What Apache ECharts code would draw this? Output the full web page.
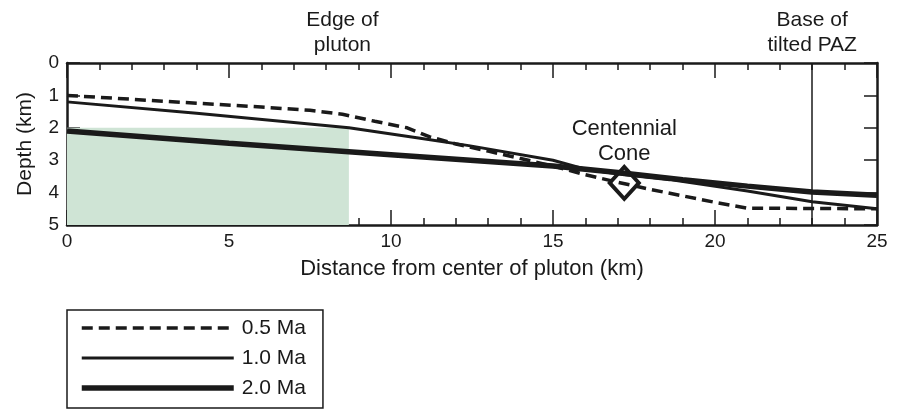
<!DOCTYPE html>
<html>
<head>
<meta charset="utf-8">
<script src="https://cdn.jsdelivr.net/npm/echarts@6/dist/echarts.min.js"></script>
<style>
  html, body { margin: 0; padding: 0; background: #fff; }
  #chart { width: 901px; height: 413px; }
</style>
</head>
<body>
<div id="chart"></div>
<script>
// Axis extents and ticks
const distanceRange = [0, 25];
const distanceInterval = 5;
const depthRange = [0, 5];
const depthInterval = 1;

// Model isotherm profiles: distance from pluton center (km) vs depth (km)
const seriesNames = ['0.5 Ma', '1.0 Ma', '2.0 Ma'];

const dist05  = [0, 2, 4, 6, 7.5, 8.5, 9.5, 10.5, 11.2, 12, 13, 14, 15, 16, 17, 18, 19, 20, 21, 25];
const depth05 = [1.0, 1.12, 1.24, 1.36, 1.46, 1.58, 1.8, 2.0, 2.28, 2.5, 2.72, 2.95, 3.18, 3.45, 3.68, 3.9, 4.1, 4.3, 4.48, 4.5];

const dist10  = [0, 4, 8.7, 10.9, 12.4, 15, 16, 17.2, 18.6, 21, 23, 25];
const depth10 = [1.2, 1.55, 2.0, 2.32, 2.55, 3.0, 3.28, 3.45, 3.6, 3.95, 4.28, 4.5];

const dist20  = [0, 5, 10, 15, 17, 19, 21, 23, 25];
const depth20 = [2.1, 2.48, 2.83, 3.18, 3.38, 3.6, 3.8, 3.98, 4.08];

// Pluton body (shaded) and base of tilted PAZ
const plutonX = [0, 8.7];
const plutonDepth = [2, 5];
const plutonLabelX = 8.5;
const pazBaseX = 23;

// Centennial Cone sample location
const coneX = 17.2;
const coneDepth = 3.7;

const zip = (xs, ys) => xs.map((x, i) => [x, ys[i]]);

const FONT = 'Liberation Sans';
const INK = '#1a1a1a';

const chart = echarts.init(document.getElementById('chart'), null, { renderer: 'canvas' });

const xBase = {
  type: 'value',
  min: distanceRange[0],
  max: distanceRange[1],
  interval: distanceInterval,
  axisLine: { show: true, onZero: false, lineStyle: { color: INK, width: 2.5 } },
  axisTick: { show: true, inside: true, length: 15, lineStyle: { color: INK, width: 1.5 } },
  minorTick: { show: true, splitNumber: 5, length: 7, lineStyle: { color: INK, width: 1.5 } },
  splitLine: { show: false },
  minorSplitLine: { show: false }
};

const yBase = {
  type: 'value',
  min: depthRange[0],
  max: depthRange[1],
  interval: depthInterval,
  inverse: true,
  axisLine: { show: true, onZero: false, lineStyle: { color: INK, width: 2.5 } },
  axisTick: { show: true, inside: true, length: 13, lineStyle: { color: INK, width: 1.5 } },
  splitLine: { show: false }
};

const option = {
  backgroundColor: '#fff',
  animation: false,
  textStyle: { fontFamily: FONT, color: INK },
  grid: { left: 67, right: 24, top: 63, bottom: 188 },
  xAxis: [
    Object.assign({}, xBase, {
      position: 'bottom',
      name: 'Distance from center of pluton (km)',
      nameLocation: 'middle',
      nameGap: 33,
      nameTextStyle: { fontFamily: FONT, fontSize: 22, color: INK },
      axisLabel: { show: true, margin: 7, fontFamily: FONT, fontSize: 19, color: INK }
    }),
    Object.assign({}, xBase, {
      position: 'top',
      axisLabel: { show: false }
    })
  ],
  yAxis: [
    Object.assign({}, yBase, {
      position: 'left',
      name: 'Depth (km)',
      nameLocation: 'middle',
      nameGap: 31,
      nameTextStyle: { fontFamily: FONT, fontSize: 21, color: INK },
      axisLabel: { show: true, margin: 8, fontFamily: FONT, fontSize: 19, color: INK }
    }),
    Object.assign({}, yBase, {
      position: 'right',
      axisLabel: { show: false }
    })
  ],
  legend: {
    data: seriesNames,
    orient: 'vertical',
    left: 67,
    top: 310,
    height: 90,
    padding: [6, 17, 8, 12],
    itemWidth: 152,
    itemHeight: 24,
    itemGap: 6,
    borderColor: INK,
    borderWidth: 1.5,
    borderRadius: 0,
    itemStyle: { opacity: 0 },
    lineStyle: { width: 'inherit' },
    textStyle: { fontFamily: FONT, fontSize: 21, lineHeight: 24, color: INK, padding: [0, 0, 0, 3] },
    selectedMode: false
  },
  series: [
    {
      name: seriesNames[0],
      type: 'line',
      data: zip(dist05, depth05),
      symbol: 'none',
      z: 4,
      lineStyle: { color: INK, width: 3.5, type: [11, 6] },
      itemStyle: { color: INK },
      markArea: {
        silent: true,
        itemStyle: { color: '#cfe4d5' },
        data: [[{ xAxis: plutonX[0], yAxis: plutonDepth[0] }, { xAxis: plutonX[1], yAxis: plutonDepth[1] }]]
      },
      markLine: {
        silent: true,
        symbol: 'none',
        label: { show: false },
        lineStyle: { color: INK, width: 1.5, type: 'solid' },
        data: [{ xAxis: pazBaseX }]
      }
    },
    {
      name: seriesNames[1],
      type: 'line',
      data: zip(dist10, depth10),
      symbol: 'none',
      z: 4,
      lineStyle: { color: INK, width: 3 },
      itemStyle: { color: INK }
    },
    {
      name: seriesNames[2],
      type: 'line',
      data: zip(dist20, depth20),
      symbol: 'none',
      z: 4,
      lineStyle: { color: INK, width: 5.5 },
      itemStyle: { color: INK }
    },
    {
      name: 'Centennial Cone',
      type: 'scatter',
      data: [[coneX, coneDepth]],
      symbol: 'diamond',
      symbolSize: [29, 32],
      z: 6,
      itemStyle: { color: 'rgba(255,255,255,0)', borderColor: INK, borderWidth: 4, opacity: 1 },
      label: {
        show: true,
        position: 'top',
        distance: -2,
        formatter: 'Centennial\nCone',
        fontFamily: FONT,
        fontSize: 22,
        lineHeight: 25,
        color: INK,
        align: 'center'
      }
    }
  ]
};

chart.setOption(option);

// Annotations above the frame, anchored to data positions on the distance axis
const edgeX = chart.convertToPixel({ xAxisIndex: 0 }, plutonLabelX);
const pazX = chart.convertToPixel({ xAxisIndex: 0 }, pazBaseX);
const noteStyle = {
  font: '21px "Liberation Sans"',
  lineHeight: 25,
  fill: INK,
  align: 'center',
  verticalAlign: 'top'
};
chart.setOption({
  graphic: [
    { type: 'text', x: edgeX, y: 8, style: Object.assign({ text: 'Edge of\npluton' }, noteStyle) },
    { type: 'text', x: pazX, y: 8, style: Object.assign({ text: 'Base of\ntilted PAZ' }, noteStyle) }
  ]
});
</script>
</body>
</html>
